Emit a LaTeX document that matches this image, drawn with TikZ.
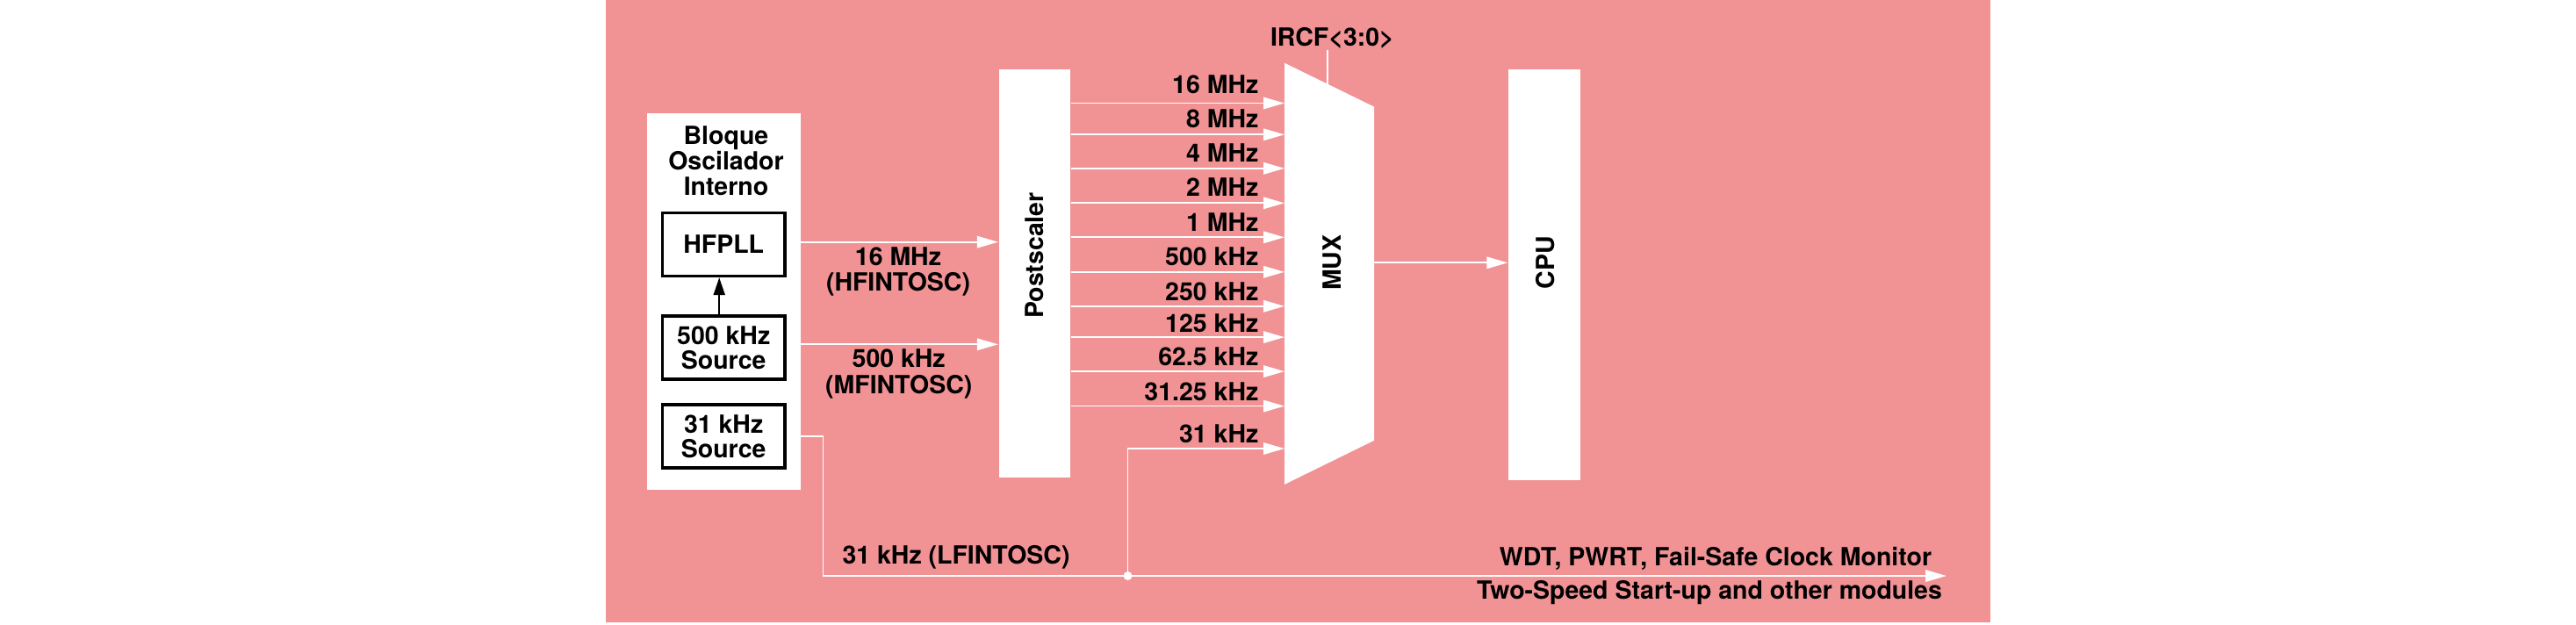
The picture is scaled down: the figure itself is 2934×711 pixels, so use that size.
\documentclass[tikz,border=0pt]{standalone}
\usepackage{fontspec}
\setmainfont{TeX Gyre Heros}
\usetikzlibrary{arrows.meta}
\definecolor{bgpink}{RGB}{241,146,148}
\begin{document}
\begin{tikzpicture}[x=0.01cm,y=-0.01cm,
  lbl/.style={font=\fontsize{8.1}{8.3}\selectfont\bfseries, inner sep=0pt, align=center, text=black},
  wbox/.style={fill=white, draw=none, inner sep=0pt},
  bbox/.style={fill=white, draw=black, line width=1pt, inner sep=0pt, align=center,
    font=\fontsize{8.1}{8.0}\selectfont\bfseries, minimum width=1.392cm, minimum height=0.72cm},
  wline/.style={draw=white, line width=0.5pt},
  warrow/.style={wline, -{Triangle[length=0.24cm,width=0.135cm]}},
  barrow/.style={draw=black, line width=0.6pt, -{Triangle[length=0.2cm,width=0.13cm]}},
]
\useasboundingbox (0,0) rectangle (2934,711);
\fill[bgpink] (690,0) rectangle (2267,709);

% oscillator block
\node[wbox, minimum width=1.75cm, minimum height=4.29cm] (osc) at (824.2,343.3) {};
\node[lbl] (osct) at (827,183) {Bloque\\Oscilador\\Interno};
\node[bbox] (hfpll) at (824.2,278.4) {HFPLL};
\node[bbox] (src500) at (824.2,396) {500 kHz\\Source};
\node[bbox] (src31) at (824.2,497) {31 kHz\\Source};
\draw[barrow] ([xshift=-0.05cm]src500.north) -- ([xshift=-0.05cm]hfpll.south);

% postscaler
\node[wbox, minimum width=0.814cm, minimum height=4.648cm] (post) at (1178.3,311.8) {};
\node[lbl, rotate=90] (postt) at (1177.8,291) {Postscaler};

% inputs to postscaler
\draw[warrow] (osc.east |- 0,275.7) -- (post.west |- 0,275.7);
\draw[warrow] (osc.east |- 0,392.3) -- (post.west |- 0,392.3);
\node[lbl] (hfl) at (1023,309.8) {16 MHz\\(HFINTOSC)};
\node[lbl] (mfl) at (1023.7,426) {500 kHz\\(MFINTOSC)};

% MUX
\node[inner sep=0pt, minimum width=1.005cm, minimum height=4.784cm] (mux) at (1514,311.8) {};
\fill[white] (mux.north west) -- ([yshift=-0.498cm]mux.north east)
  -- ([yshift=0.5cm]mux.south east) -- (mux.south west) -- cycle;
\node[lbl, rotate=90] (muxt) at (1517.4,299.3) {MUX};
\coordinate (ircfin) at (1511.6,96.3);
\node[lbl] (ircf) at (1517.4,43) {IRCF<3:0>};
\draw[wline] (ircfin |- 0,56.7) -- (ircfin);

% postscaler outputs
\foreach \ly/\t/\c [count=\i] in {117.5/16 MHz/96.6, 153.3/8 MHz/135, 191.8/4 MHz/174.6,
    231.3/2 MHz/213, 270.3/1 MHz/253, 309.8/500 kHz/292.5, 348.8/250 kHz/332.4,
    384.1/125 kHz/368, 423.1/62.5 kHz/406.8, 462.6/31.25 kHz/446.7}{
  \draw[warrow] (post.east |- 0,\ly) -- (mux.west |- 0,\ly);
  \node[lbl, anchor=base east] (f\i) at (1434,\c+10) {\t};
}
\node[lbl, anchor=base east] (f11) at (1434,504.3) {31 kHz};

% CPU
\node[wbox, minimum width=0.82cm, minimum height=4.671cm] (cpu) at (1759,313) {};
\node[lbl, rotate=90] (cput) at (1760,299) {CPU};
\draw[warrow] (mux.east |- 0,299.3) -- (cpu.west |- 0,299.3);

% LFINTOSC path
\coordinate (bend) at (937.6,656);
\coordinate (junc) at (1284.5,656);
\coordinate (lfend) at (2217,656);
\draw[warrow] (osc.east |- src31.east) -| (bend) -- (lfend);
\draw[warrow] (junc) |- (mux.west |- 0,511);
\fill[white] (junc) circle (0.05cm);
\node[lbl] (lfl) at (1089,635) {31 kHz (LFINTOSC)};
\node[lbl] (m1) at (1954,636) {WDT, PWRT, Fail-Safe Clock Monitor};
\node[lbl] (m2) at (1947,675) {Two-Speed Start-up and other modules};
\end{tikzpicture}
\end{document}
